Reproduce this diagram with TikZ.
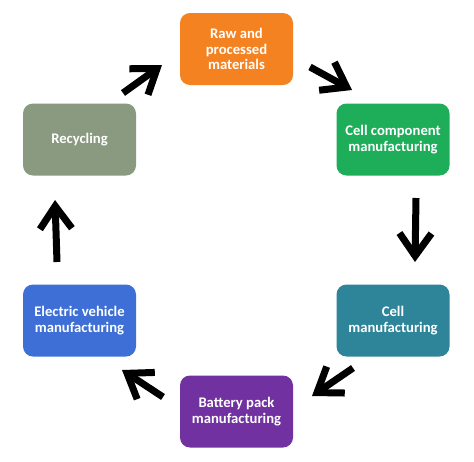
\documentclass[tikz,border=0pt]{standalone}
\usepackage{fontspec}
\setmainfont{Carlito}
\usetikzlibrary{arrows.meta}
\definecolor{corange}{HTML}{F58220}
\definecolor{cgreen}{HTML}{1EAE5A}
\definecolor{cgray}{HTML}{8A9A80}
\definecolor{cblue}{HTML}{3D6FD6}
\definecolor{cteal}{HTML}{2E8599}
\definecolor{cpurple}{HTML}{7131A1}
\tikzset{
  stage/.style={rounded corners=7.5pt, minimum width=84.75pt, minimum height=54pt,
    text=white, font=\bfseries\fontsize{11}{11.8}\selectfont, align=center, inner sep=0pt},
  flow/.style={line width=5.25pt, -{Straight Barb[length=17pt, width=24pt, line width=5.25pt]}}
}
\begin{document}
\begin{tikzpicture}[x=0.75pt, y=-0.75pt]
\useasboundingbox (0,0) rectangle (474,461);
\node[stage, fill=corange] (raw) at (236.5,49) {Raw and\\processed\\materials};
\node[stage, fill=cgreen] (ccm) at (393,139.5) {Cell component\\manufacturing};
\node[stage, fill=cgray] (rec) at (79.5,139.5) {Recycling};
\node[stage, fill=cblue] (ev) at (79.5,320.5) {Electric vehicle\\manufacturing};
\node[stage, fill=cteal] (cell) at (393,320.5) {Cell\\manufacturing};
\node[stage, fill=cpurple] (bp) at (236.5,411.5) {Battery pack\\manufacturing};
\coordinate (a1s) at (123,93); \coordinate (a1e) at (162,65);
\coordinate (a2s) at (310,67); \coordinate (a2e) at (352,90);
\coordinate (a3s) at (416,198); \coordinate (a3e) at (415,262);
\coordinate (a4s) at (353,368); \coordinate (a4e) at (312,396);
\coordinate (a5s) at (163,397); \coordinate (a5e) at (122,370);
\coordinate (a6s) at (57,262); \coordinate (a6e) at (55,200);
\draw[flow] (a1s) -- (a1e);
\draw[flow] (a2s) -- (a2e);
\draw[flow] (a3s) -- (a3e);
\draw[flow] (a4s) -- (a4e);
\draw[flow] (a5s) -- (a5e);
\draw[flow] (a6s) -- (a6e);
\end{tikzpicture}
\end{document}
